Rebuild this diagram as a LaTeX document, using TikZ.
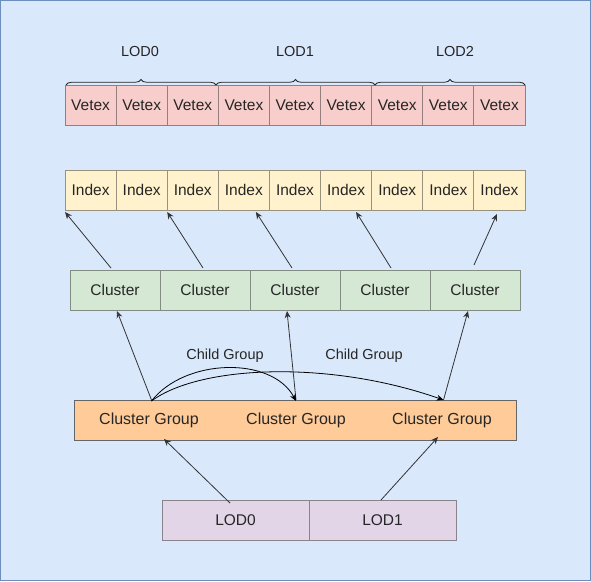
\documentclass[tikz,border=0pt]{standalone}
\usepackage{fontspec}
\setmainfont{Liberation Sans}
\usetikzlibrary{arrows.meta,decorations.pathreplacing,calc}
\definecolor{bgfill}{HTML}{DAE8FC}
\definecolor{bgline}{HTML}{6C8EBF}
\definecolor{vfill}{HTML}{F8CECC}
\definecolor{ifill}{HTML}{FFF2CC}
\definecolor{cfill}{HTML}{D5E8D4}
\definecolor{gfill}{HTML}{FFCC99}
\definecolor{lfill}{HTML}{E1D5E7}
\begin{document}
\begin{tikzpicture}[x=1pt,y=-1pt,
  cell/.style={draw=black!45, line width=0.8pt, minimum height=40pt, inner sep=0pt, outer sep=0pt,
    font=\fontsize{15.5}{18}\selectfont, text=black!85},
  vcell/.style={cell, fill=vfill, draw=vfill!55!black!90, minimum width=460pt/9},
  icell/.style={cell, fill=ifill, draw=ifill!55!black!90, minimum width=460pt/9},
  ccell/.style={cell, fill=cfill, draw=cfill!55!black!90, minimum width=90pt},
  lcell/.style={cell, fill=lfill, draw=lfill!55!black!90, minimum width=147pt},
  lbl/.style={font=\fontsize{14.5}{17}\selectfont, text=black!85, inner sep=0pt},
  arr/.style={draw=black!80, line width=0.8pt, -{Stealth[length=7pt,width=6pt]}},
  carr/.style={draw=black, line width=0.8pt, -{Stealth[length=7pt,width=6pt]}},
  brc/.style={draw=black!85, line width=0.8pt, decorate, decoration={brace, amplitude=5.5pt}}
]
\useasboundingbox (0,0) rectangle (591,581);
\fill[bgfill] (0,0) rectangle (591,581);
\draw[bgline, line width=1pt] (0.5,0.5) rectangle (590.5,580.5);

% Vertex row
\foreach \i in {1,...,9} {
  \node[vcell] (v\i) at ({65+460/9*(\i-0.5)},105) {Vetex};
}
% Braces
\coordinate (b0) at (66,85);
\coordinate (b1) at (216,85);
\coordinate (b2) at (375,85);
\coordinate (b3) at (525,85);
\draw[brc] (b0) -- (b1);
\draw[brc] (b1) -- (b2);
\draw[brc] (b2) -- (b3);
\node[lbl] (lod0) at (140,52) {LOD0};
\node[lbl] (lod1) at (295,52) {LOD1};
\node[lbl] (lod2) at (455,52) {LOD2};

% Index row
\foreach \i in {1,...,9} {
  \node[icell] (i\i) at ({65+460/9*(\i-0.5)},190) {Index};
}

% Cluster row
\foreach \i in {1,...,5} {
  \node[ccell] (c\i) at ({70+90*(\i-0.5)},290) {Cluster};
}

% Cluster group
\node[cell, fill=gfill, draw=black!60, minimum width=442pt] (cg) at (295,420) {};
\node[lbl, font=\fontsize{16}{18}\selectfont] (g1) at (149,420) {Cluster Group};
\node[lbl, font=\fontsize{16}{18}\selectfont] (g2) at (296,420) {Cluster Group};
\node[lbl, font=\fontsize{16}{18}\selectfont] (g3) at (442,420) {Cluster Group};

% LOD row
\node[lcell] (l0) at (235.5,520) {LOD0};
\node[lcell] (l1) at (382.5,520) {LOD1};

% Cluster -> Index arrows
\draw[arr] ([xshift=-4pt,yshift=2pt]c1.north) -- ([yshift=-2pt]i1.south west);
\draw[arr] ([xshift=-2pt,yshift=2pt]c2.north) -- ([yshift=-2pt]i3.south west);
\draw[arr] ([xshift=-3pt,yshift=2pt]c3.north) -- ([xshift=12pt,yshift=-2pt]i4.south);
\draw[arr] ([xshift=6pt,yshift=2pt]c4.north) -- ([xshift=10pt,yshift=-2pt]i6.south);
\draw[arr] ([xshift=-1pt,yshift=5pt]c5.north) -- ([xshift=-2.5pt,yshift=-4pt]i9.south);

% Cluster group -> Cluster arrows
\coordinate (s1) at ([xshift=2.5pt]g1 |- cg.north);
\coordinate (s2) at (g2 |- cg.north);
\coordinate (s3) at ([xshift=1.5pt]g3 |- cg.north);
\draw[arr] (s1) -- ([xshift=2pt,yshift=-1pt]c1.south);
\draw[arr] (s2) -- ([xshift=-8pt,yshift=-1pt]c3.south);
\draw[arr] (s3) -- ([xshift=-7pt,yshift=-1pt]c5.south);

% Child group curves
\draw[carr] ([yshift=-1pt]s1) .. controls (185,358) and (272,356) .. ([yshift=-1pt]s2);
\draw[carr] ([yshift=-1pt]s1) .. controls (200,365) and (330,360) .. (s3);
\node[lbl] (cgl1) at (225,356) {Child Group};
\node[lbl] (cgl2) at (364,356) {Child Group};

% LOD -> Cluster group arrows
\draw[arr] ([xshift=-5.5pt,yshift=-3pt]l0.north) -- ([yshift=1pt]$(cg.south west)+(90pt,0)$);
\draw[arr] ([xshift=-1.5pt]l1.north) -- ([yshift=3pt]$(cg.south west)+(364pt,0)$);
\end{tikzpicture}
\end{document}
